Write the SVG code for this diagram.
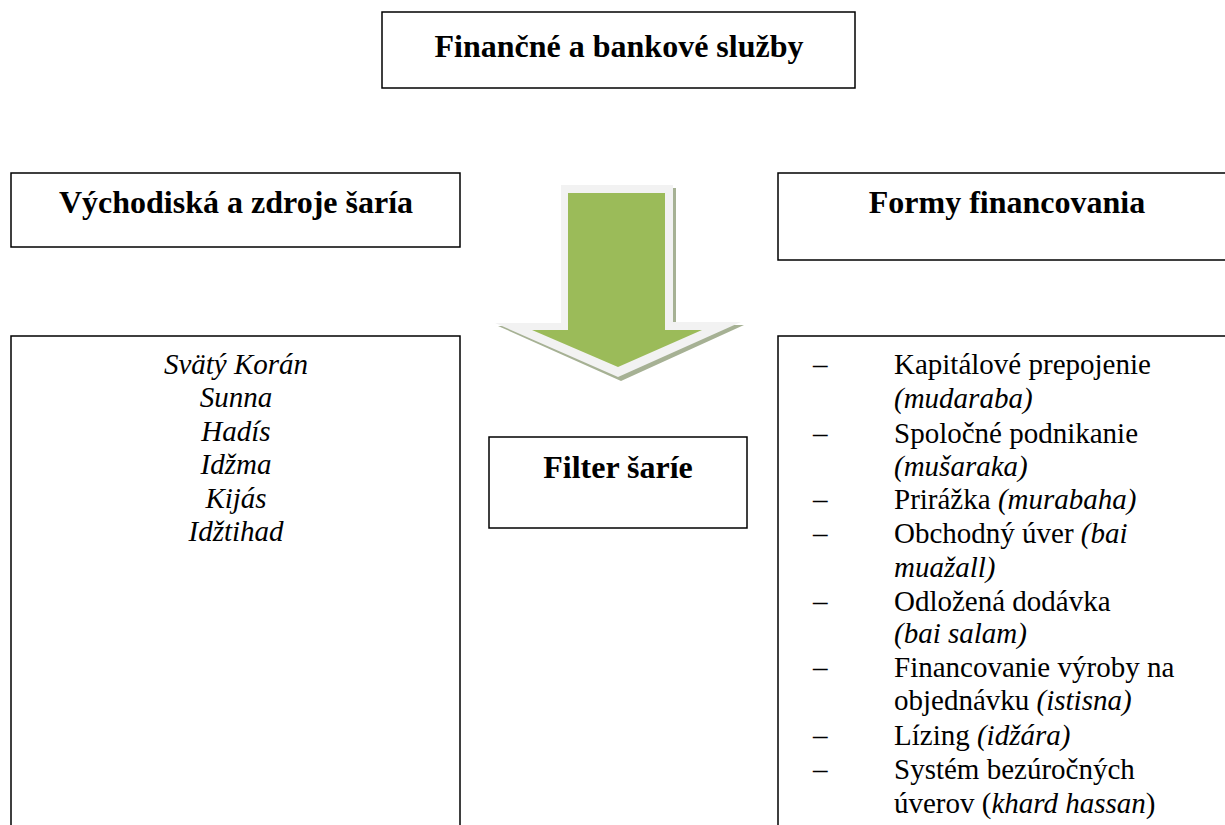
<svg xmlns="http://www.w3.org/2000/svg" width="1225" height="825" viewBox="0 0 1225 825">
<style>
.box{fill:#fff;stroke:#000;stroke-width:1.5}
text{font-family:"Liberation Serif","Times New Roman",Tinos,"DejaVu Serif",serif}
.h{font-weight:bold;font-size:32px;text-anchor:middle;fill:#000}
.t{font-size:29px;fill:#000}
.i{font-style:italic}
.c{text-anchor:middle}
</style>
<rect width="1225" height="825" fill="#fff"/>
<g id="top">
<rect class="box" x="382" y="12" width="473" height="76"/>
<text class="h" x="619" y="57">Finančné a bankové služby</text>
</g>
<g id="left-head">
<rect class="box" x="11" y="173" width="449" height="74"/>
<text class="h" x="236" y="213">Východiská a zdroje šaría</text>
</g>
<g id="right-head">
<rect class="box" x="778" y="173" width="452" height="87"/>
<text class="h" x="1007" y="213">Formy financovania</text>
</g>
<g id="left-body">
<rect class="box" x="11" y="336" width="449" height="495"/>
<text class="t i c" x="236" y="374">Svätý Korán</text>
<text class="t i c" x="236" y="407">Sunna</text>
<text class="t i c" x="236" y="441">Hadís</text>
<text class="t i c" x="236" y="474">Idžma</text>
<text class="t i c" x="236" y="508">Kijás</text>
<text class="t i c" x="236" y="541">Idžtihad</text>
</g>
<g id="filter">
<rect class="box" x="489" y="437" width="258" height="91"/>
<text class="h" x="618" y="478">Filter šaríe</text>
</g>
<g id="right-body">
<rect class="box" x="778" y="336" width="452" height="495"/>
<text class="t" x="813" y="374">–</text>
<text class="t" x="894" y="374">Kapitálové prepojenie</text>
<text class="t i" x="894" y="408">(mudaraba)</text>
<text class="t" x="813" y="443">–</text>
<text class="t" x="894" y="443">Spoločné podnikanie</text>
<text class="t i" x="894" y="476">(mušaraka)</text>
<text class="t" x="813" y="509">–</text>
<text class="t" x="894" y="509">Prirážka <tspan class="i">(murabaha)</tspan></text>
<text class="t" x="813" y="543">–</text>
<text class="t" x="894" y="543">Obchodný úver <tspan class="i">(bai</tspan></text>
<text class="t i" x="894" y="577">muažall)</text>
<text class="t" x="813" y="611">–</text>
<text class="t" x="894" y="611">Odložená dodávka</text>
<text class="t i" x="894" y="643">(bai salam)</text>
<text class="t" x="813" y="677">–</text>
<text class="t" x="894" y="677">Financovanie výroby na</text>
<text class="t" x="894" y="710">objednávku <tspan class="i">(istisna)</tspan></text>
<text class="t" x="813" y="745">–</text>
<text class="t" x="894" y="745">Lízing <tspan class="i">(idžára)</tspan></text>
<text class="t" x="813" y="779">–</text>
<text class="t" x="894" y="779">Systém bezúročných</text>
<text class="t" x="894" y="813">úverov (<tspan class="i">khard hassan</tspan>)</text>
</g>
<g id="connectors">
<path d="M563,188 H676 V325 H744 L621,381 L498,326 H563 Z" fill="#a6b194"/>
<path d="M561,185 H673 V322 H741 L618,377 L495,323 H561 Z" fill="#f2f2f2"/>
<path d="M568,193 H665 V330 H702 L618,367 L532,330 H568 Z" fill="#9bbb59"/>
</g>
</svg>
